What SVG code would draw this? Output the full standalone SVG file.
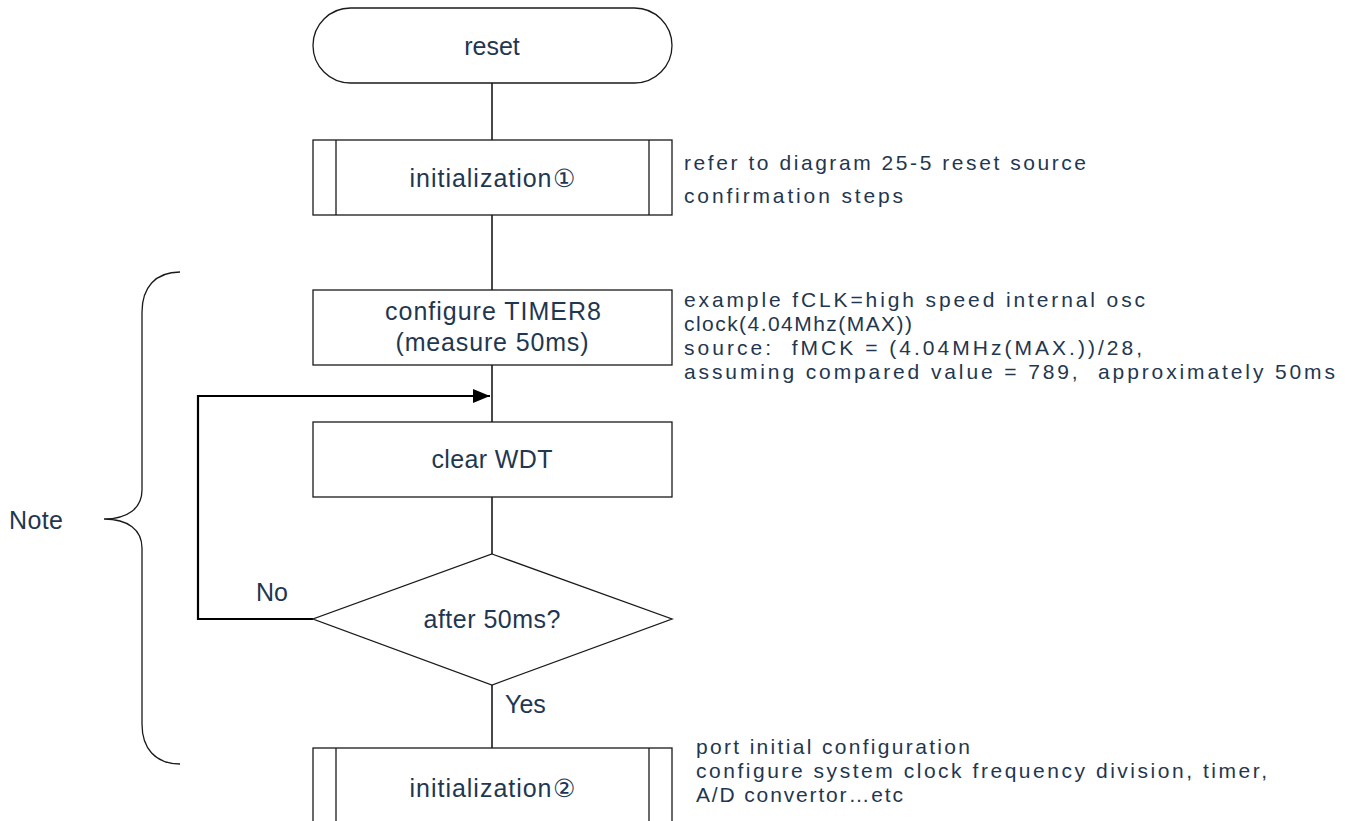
<svg xmlns="http://www.w3.org/2000/svg" width="1354" height="821" viewBox="0 0 1354 821">
<defs>
<style>
.shape{fill:#fff;stroke:#1a1a1a;stroke-width:1.3}
.ln{fill:none;stroke:#1a1a1a;stroke-width:1.6}
.loop{fill:none;stroke:#000;stroke-width:2.2}
.t{font-family:"Liberation Sans",Arial,sans-serif;font-size:25px;fill:#1f3750}
.n{font-size:21px;white-space:pre}
.c{text-anchor:middle}
</style>
<marker id="arr" markerWidth="18" markerHeight="14" refX="17" refY="7" orient="auto" markerUnits="userSpaceOnUse">
<path d="M0,0 L17,7 L0,14 Z" fill="#000"/>
</marker>
</defs>
<rect width="1354" height="821" fill="#fff"/>
<g id="connectors">
<line class="ln" x1="492" y1="83" x2="492" y2="140"/>
<line class="ln" x1="492" y1="215" x2="492" y2="290"/>
<line class="ln" x1="492" y1="365" x2="492" y2="422"/>
<line class="ln" x1="492" y1="497" x2="492" y2="554"/>
<line class="ln" x1="492" y1="685" x2="492" y2="748"/>
<polyline class="loop" points="313,619 198,619 198,396 490,396" marker-end="url(#arr)"/>
<text class="t" x="256" y="601">No</text>
<text class="t" x="505" y="713">Yes</text>
</g>
<g id="n-reset">
<rect class="shape" x="313" y="8" width="359" height="75" rx="37.5" ry="37.5"/>
<text class="t c" x="492" y="55">reset</text>
</g>
<g id="n-init1">
<rect class="shape" x="313" y="140" width="359" height="75"/>
<line class="shape" x1="336" y1="140" x2="336" y2="215"/>
<line class="shape" x1="649" y1="140" x2="649" y2="215"/>
<text class="t c" x="492" y="187" textLength="165">initialization①</text>
</g>
<g id="note-init1">
<text class="t n" x="684" y="170" textLength="402" lengthAdjust="spacing">refer to diagram 25-5 reset source</text>
<text class="t n" x="684" y="203" textLength="219" lengthAdjust="spacing">confirmation steps</text>
</g>
<g id="n-timer">
<rect class="shape" x="313" y="290" width="359" height="75"/>
<text class="t c" x="493" y="320" textLength="216" lengthAdjust="spacing">configure TIMER8</text>
<text class="t c" x="492" y="351" textLength="193" lengthAdjust="spacing">(measure 50ms)</text>
</g>
<g id="note-timer">
<text class="t n" x="684" y="307" textLength="461" lengthAdjust="spacing">example fCLK=high speed internal osc</text>
<text class="t n" x="684" y="331" textLength="228" lengthAdjust="spacing">clock(4.04Mhz(MAX))</text>
<text class="t n" x="684" y="355" textLength="458" lengthAdjust="spacing">source:  fMCK = (4.04MHz(MAX.))/28,</text>
<text class="t n" x="684" y="379" textLength="651" lengthAdjust="spacing">assuming compared value = 789,  approximately 50ms</text>
</g>
<g id="n-wdt">
<rect class="shape" x="313" y="422" width="359" height="75"/>
<text class="t c" x="492" y="468" textLength="121" lengthAdjust="spacing">clear WDT</text>
</g>
<g id="n-decision">
<polygon class="shape" points="492,554 672,619 492,685 313,619"/>
<text class="t c" x="492" y="628" textLength="137" lengthAdjust="spacing">after 50ms?</text>
</g>
<g id="n-init2">
<rect class="shape" x="313" y="748" width="359" height="80"/>
<line class="shape" x1="336" y1="748" x2="336" y2="828"/>
<line class="shape" x1="649" y1="748" x2="649" y2="828"/>
<text class="t c" x="492" y="797" textLength="165">initialization②</text>
</g>
<g id="note-init2">
<text class="t n" x="696" y="754" textLength="274" lengthAdjust="spacing">port initial configuration</text>
<text class="t n" x="696" y="778" textLength="571" lengthAdjust="spacing">configure system clock frequency division, timer,</text>
<text class="t n" x="696" y="802" textLength="207" lengthAdjust="spacing">A/D convertor…etc</text>
</g>
<g id="brace">
<path class="ln" style="stroke-width:1.3" d="M180,272 C155,272 142,288 142,312 L142,490 C142,508 128,519 104,519 C128,519 142,530 142,548 L142,724 C142,748 155,764 180,764"/>
<text class="t" x="9" y="529" textLength="54" lengthAdjust="spacing">Note</text>
</g>
</svg>
